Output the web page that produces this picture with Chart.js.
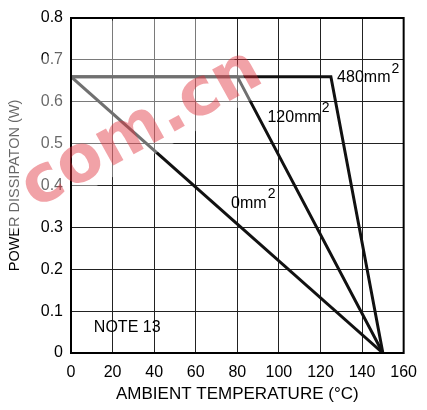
<!DOCTYPE html>
<html>
<head>
<meta charset="utf-8">
<script src="https://cdn.jsdelivr.net/npm/chart.js@4.4.1/dist/chart.umd.min.js"></script>
<style>
  html, body { margin: 0; padding: 0; background: #fff; }
  #wrap { width: 427px; height: 410px; position: relative; }
</style>
</head>
<body>
<div id="wrap"><canvas id="c" width="427" height="410"></canvas></div>
<script>
// ---- data ----
const xTicks = [0, 20, 40, 60, 80, 100, 120, 140, 160];
const yTicks = [0, 0.1, 0.2, 0.3, 0.4, 0.5, 0.6, 0.7, 0.8];

const temp480 = [0, 125, 150];
const power480 = [0.66, 0.66, 0];

const temp120 = [0, 80, 150];
const power120 = [0.66, 0.66, 0];

const temp0 = [0, 150];
const power0 = [0.66, 0];

const curveLabels = ['480mm', '120mm', '0mm'];
const labelX = [128, 94.5, 77];
const labelY = [0.657, 0.563, 0.357];
const noteText = 'NOTE 13';
const noteX = 11;
const noteY = 0.06;
const xTitle = 'AMBIENT TEMPERATURE (°C)';
const yTitle = 'POWER DISSIPATON (W)';
const watermark = 'com.cn';

const pts = (xs, ys) => xs.map((x, i) => ({ x: x, y: ys[i] }));
const FONT = '"Liberation Sans", Arial, sans-serif';

function drawFrame(chart) {
  const a = chart.chartArea, ctx = chart.ctx;
  ctx.save();
  ctx.strokeStyle = '#000';
  ctx.lineWidth = 2;
  ctx.strokeRect(a.left, a.top, a.right - a.left, a.bottom - a.top);
  ctx.restore();
}

const labelPlugin = {
  id: 'labels',
  afterDatasetsDraw(chart) {
    const ctx = chart.ctx;
    const xs = chart.scales.x, ys = chart.scales.y;
    ctx.save();
    ctx.fillStyle = '#000';
    ctx.textBaseline = 'middle';
    ctx.textAlign = 'left';
    curveLabels.forEach((t, i) => {
      const px = xs.getPixelForValue(labelX[i]);
      const py = ys.getPixelForValue(labelY[i]);
      ctx.font = '16px ' + FONT;
      ctx.fillText(t, px, py);
      const w = ctx.measureText(t).width;
      ctx.font = '14px ' + FONT;
      ctx.fillText('2', px + w + 1, py - 9);
    });
    ctx.font = '16px ' + FONT;
    ctx.fillText(noteText, xs.getPixelForValue(noteX), ys.getPixelForValue(noteY));
    ctx.restore();
  },
  afterDraw(chart) {
    const ctx = chart.ctx;
    ctx.save();
    ctx.translate(142, 130);
    ctx.rotate(-29 * Math.PI / 180);
    // translucent white band of the watermark
    ctx.globalAlpha = 0.4;
    ctx.fillStyle = '#fff';
    ctx.fillRect(-200, -110, 315, 137);
    ctx.restore();
    drawFrame(chart);
    ctx.save();
    ctx.translate(142, 130);
    ctx.rotate(-29 * Math.PI / 180);
    ctx.globalAlpha = 0.45;
    ctx.fillStyle = '#e0303c';
    ctx.font = 'bold 66px "DejaVu Sans", ' + FONT;
    ctx.textAlign = 'center';
    ctx.textBaseline = 'middle';
    ctx.fillText(watermark, 0, 0);
    ctx.restore();
  }
};

new Chart(document.getElementById('c'), {
  type: 'scatter',
  data: {
    datasets: [
      { data: pts(temp480, power480), borderColor: '#111', borderWidth: 3, showLine: true, pointRadius: 0, tension: 0 },
      { data: pts(temp120, power120), borderColor: '#111', borderWidth: 3, showLine: true, pointRadius: 0, tension: 0 },
      { data: pts(temp0, power0), borderColor: '#111', borderWidth: 3, showLine: true, pointRadius: 0, tension: 0 }
    ]
  },
  options: {
    responsive: false,
    animation: false,
    events: [],
    layout: { padding: { top: 18, right: 21, left: 0, bottom: 0 } },
    plugins: { legend: { display: false }, tooltip: { enabled: false } },
    scales: {
      x: {
        type: 'linear', min: 0, max: 160,
        afterBuildTicks: s => { s.ticks = xTicks.map(v => ({ value: v })); },
        afterFit: s => { s.height = 57; },
        grid: { color: '#222', lineWidth: 1, drawTicks: false },
        border: { color: '#000', width: 2 },
        ticks: { color: '#000', font: { family: FONT, size: 16 }, padding: 10, maxRotation: 0 },
        title: { display: true, text: xTitle, color: '#000', font: { family: FONT, size: 17 }, padding: { top: 0, bottom: 5 } }
      },
      y: {
        type: 'linear', min: 0, max: 0.8,
        afterBuildTicks: s => { s.ticks = yTicks.map(v => ({ value: v })); },
        afterFit: s => { s.width = 71; },
        grid: { color: '#222', lineWidth: 1, drawTicks: false },
        border: { color: '#000', width: 2 },
        ticks: { color: '#000', font: { family: FONT, size: 16 }, padding: 8,
                 callback: v => (v === 0 ? '0' : v.toFixed(1)) },
        title: { display: true, text: yTitle, color: '#000', font: { family: FONT, size: 14.5 }, padding: { top: 6, bottom: 0 } }
      }
    }
  },
  plugins: [labelPlugin]
});
</script>
</body>
</html>
